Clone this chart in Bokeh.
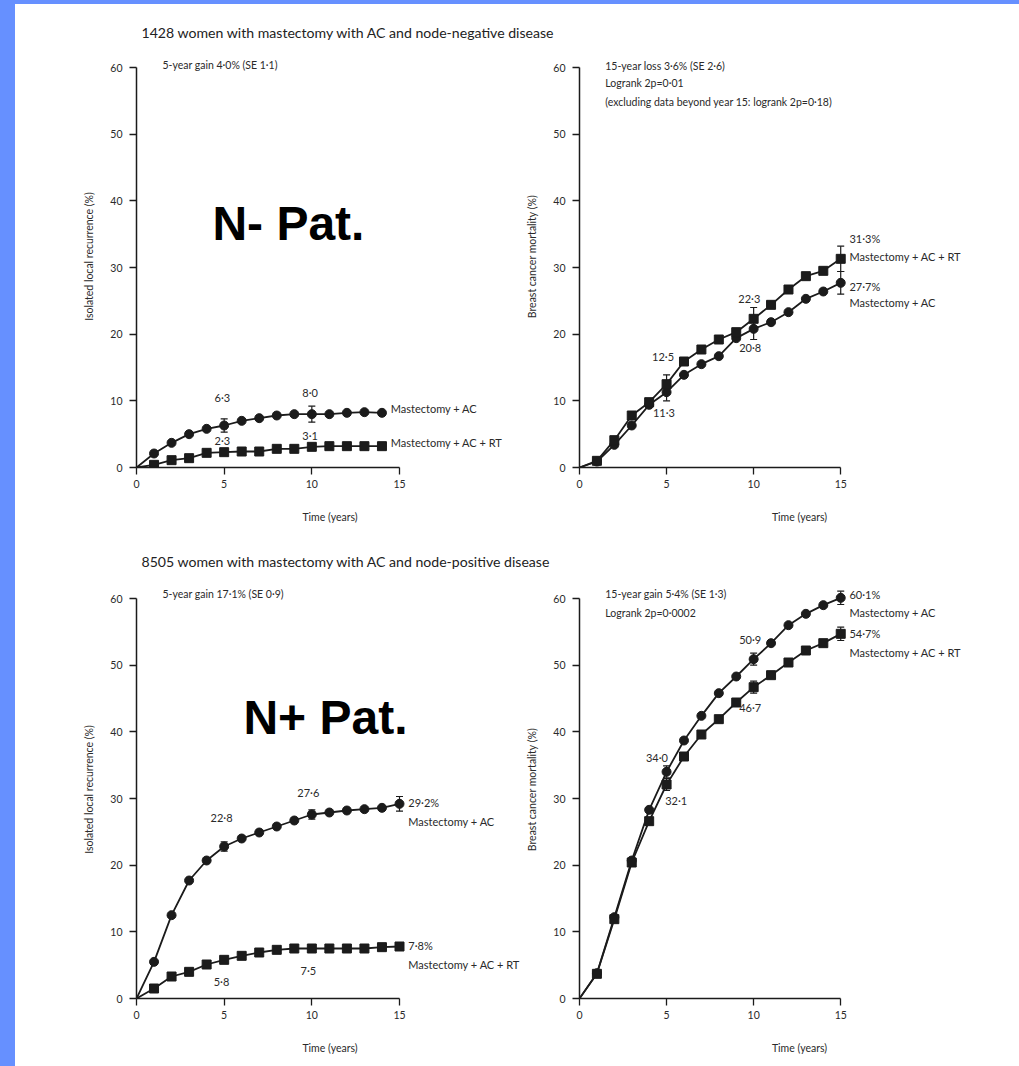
from bokeh.plotting import figure
from bokeh.layouts import column, row
from bokeh.models import Range1d, FixedTicker, Whisker, ColumnDataSource, TeeHead, Div
from bokeh.core.properties import value
from bokeh.embed import file_html
from bokeh.resources import INLINE

# ---------------- data ----------------
years = list(range(0, 16))
years14 = list(range(0, 15))

neg_rec_ac = [0, 2.1, 3.7, 5.0, 5.8, 6.3, 7.0, 7.4, 7.8, 8.0, 8.0, 8.0, 8.2, 8.3, 8.2]
neg_rec_rt = [0, 0.4, 1.1, 1.4, 2.2, 2.3, 2.4, 2.4, 2.8, 2.8, 3.1, 3.2, 3.2, 3.2, 3.2]
neg_mort_ac = [0, 0.9, 3.4, 6.3, 9.4, 11.3, 13.9, 15.5, 16.7, 19.4, 20.8, 21.8, 23.3, 25.3, 26.4, 27.7]
neg_mort_rt = [0, 1.0, 4.1, 7.8, 9.8, 12.5, 15.9, 17.7, 19.2, 20.3, 22.3, 24.4, 26.7, 28.7, 29.5, 31.3]
pos_rec_ac = [0, 5.5, 12.5, 17.7, 20.7, 22.8, 24.0, 24.9, 25.8, 26.7, 27.6, 27.9, 28.2, 28.4, 28.6, 29.2]
pos_rec_rt = [0, 1.5, 3.3, 4.0, 5.1, 5.8, 6.4, 6.9, 7.3, 7.5, 7.5, 7.5, 7.5, 7.5, 7.7, 7.8]
pos_mort_ac = [0, 3.8, 12.2, 20.7, 28.3, 34.0, 38.7, 42.4, 45.8, 48.3, 50.9, 53.3, 56.0, 57.7, 59.0, 60.1]
pos_mort_rt = [0, 3.7, 11.9, 20.4, 26.6, 32.1, 36.3, 39.6, 41.9, 44.4, 46.7, 48.5, 50.4, 52.2, 53.3, 54.7]

# error-bar half widths (SE) at selected years
neg_rec_ac_se = {5: 1.0, 10: 1.2}
neg_rec_rt_se = {5: 0.4, 10: 0.5}
neg_mort_ac_se = {5: 1.3, 10: 1.6, 15: 1.7}
neg_mort_rt_se = {5: 1.4, 10: 1.7, 15: 1.9}
pos_rec_ac_se = {5: 0.7, 10: 0.7, 15: 1.1}
pos_rec_rt_se = {5: 0.4, 10: 0.4, 15: 0.4}
pos_mort_ac_se = {5: 0.9, 10: 0.9, 15: 1.0}
pos_mort_rt_se = {5: 0.9, 10: 0.9, 15: 1.0}

y_ticks = [0, 10, 20, 30, 40, 50, 60]
x_ticks = [0, 5, 10, 15]

title_neg = "1428 women with mastectomy with AC and node-negative disease"
title_pos = "8505 women with mastectomy with AC and node-positive disease"
ylab_rec = "Isolated local recurrence (%)"
ylab_mort = "Breast cancer mortality (%)"
xlab = "Time (years)"
lab_ac = "Mastectomy + AC"
lab_rt = "Mastectomy + AC + RT"

# ---------------- style ----------------
FONT = "Lato"
INK = "#1b1b1b"
TXT = "#2a2a2a"
BLUE = "#6690ff"
XSCALE = 263.0 / 15.0   # px per year
YSCALE = 400.0 / 60.0   # px per percent


def fmt(v, pct=False):
    s = ("%.1f" % v).replace(".", "\u00b7")
    return s + ("%" if pct else "")


def panel(width, height, left, bottom, ylabel):
    frame_w = width - left
    frame_h = height - bottom
    p = figure(width=width, height=height, output_backend="svg", toolbar_location=None,
               x_range=Range1d(0, frame_w / XSCALE), y_range=Range1d(0, frame_h / YSCALE),
               min_border_left=left, min_border_bottom=bottom, min_border_top=0, min_border_right=0)
    p.outline_line_color = None
    p.grid.visible = False
    p.background_fill_color = "white"
    p.border_fill_color = "white"
    for ax in (p.xaxis[0], p.yaxis[0]):
        ax.axis_line_color = INK
        ax.axis_line_width = 1.5
        ax.major_tick_line_color = INK
        ax.major_tick_line_width = 1.3
        ax.major_tick_in = 0
        ax.major_tick_out = 7
        ax.minor_tick_line_color = None
        ax.major_label_text_font = FONT
        ax.major_label_text_font_size = "10.5px"
        ax.major_label_text_color = TXT
        ax.axis_label_text_font = FONT
        ax.axis_label_text_font_size = "10.5px"
        ax.axis_label_text_font_style = "normal"
        ax.axis_label_text_color = TXT
    p.xaxis.bounds = (0, 15)
    p.yaxis.bounds = (0, 60)
    p.xaxis.ticker = FixedTicker(ticks=x_ticks)
    p.yaxis.ticker = FixedTicker(ticks=y_ticks)
    p.xaxis.major_label_standoff = 5
    p.yaxis.major_label_standoff = 7
    p.xaxis.axis_label = xlab
    p.yaxis.axis_label = ylabel
    p.xaxis.axis_label_standoff = 20
    p.yaxis.axis_label_standoff = 12
    return p


def series(p, xs, ys, marker, se):
    p.line(xs, ys, line_color=INK, line_width=1.8)
    size = 9 if marker == "circle" else 9
    p.scatter(xs[1:], ys[1:], marker=marker, size=size, fill_color=INK, line_color=INK)
    ex = list(se.keys())
    src = ColumnDataSource(dict(x=ex, lo=[ys[e] - se[e] for e in ex], hi=[ys[e] + se[e] for e in ex]))
    w = Whisker(source=src, base="x", lower="lo", upper="hi", line_color=INK, line_width=1.2,
                upper_head=TeeHead(size=7, line_color=INK, line_width=1.2),
                lower_head=TeeHead(size=7, line_color=INK, line_width=1.2))
    p.add_layout(w)


def texts(p, xs, ys, txt, size="11px", align="center", color=TXT, style="normal", font=FONT,
          baseline="middle"):
    p.text(xs, ys, text=txt, text_font=value(font), text_font_size=size, text_align=align,
           text_baseline=baseline, text_color=color, text_font_style=style)


# ---------------- panels ----------------
LW, RW = 508, 496
TH, BH = 495, 486

# top-left: node-negative local recurrence
p1 = panel(LW, TH, 121, 73, ylab_rec)
series(p1, years14, neg_rec_ac, "circle", neg_rec_ac_se)
series(p1, years14, neg_rec_rt, "square", neg_rec_rt_se)
texts(p1, [5 - 0.1, 10 - 0.1], [neg_rec_ac[5] + 4.2, neg_rec_ac[10] + 3.2],
      [fmt(neg_rec_ac[5]), fmt(neg_rec_ac[10])])
texts(p1, [5 - 0.1, 10 - 0.1], [neg_rec_rt[5] + 1.8, neg_rec_rt[10] + 1.7],
      [fmt(neg_rec_rt[5]), fmt(neg_rec_rt[10])])
texts(p1, [14.5, 14.5], [neg_rec_ac[14] + 0.6, neg_rec_rt[14] + 0.5], [lab_ac, lab_rt], align="left")
texts(p1, [1.48], [60.45], ["5-year gain 4\u00b70% (SE 1\u00b71)"], align="left", size="10.5px")
texts(p1, [4.33], [36.6], ["N- Pat."], size="48px", align="left", color="black", style="bold",
      font="Liberation Sans", baseline="alphabetic")

# top-right: node-negative breast cancer mortality
p2 = panel(RW, TH, 53, 73, ylab_mort)
series(p2, years, neg_mort_ac, "circle", neg_mort_ac_se)
series(p2, years, neg_mort_rt, "square", neg_mort_rt_se)
texts(p2, [4.8, 9.75], [neg_mort_rt[5] + 4.1, neg_mort_rt[10] + 3.1],
      [fmt(neg_mort_rt[5]), fmt(neg_mort_rt[10])])
texts(p2, [4.85, 9.8], [neg_mort_ac[5] - 3.1, neg_mort_ac[10] - 2.85],
      [fmt(neg_mort_ac[5]), fmt(neg_mort_ac[10])])
texts(p2, [15.5, 15.5, 15.5, 15.5],
      [neg_mort_rt[15] + 3.0, neg_mort_rt[15] + 0.4, neg_mort_ac[15] - 0.5, neg_mort_ac[15] - 3.0],
      [fmt(neg_mort_rt[15], True), lab_rt, fmt(neg_mort_ac[15], True), lab_ac], align="left")
texts(p2, [1.48, 1.48, 1.48], [60.3, 57.75, 54.8],
      ["15-year loss 3\u00b76% (SE 2\u00b76)", "Logrank 2p=0\u00b701",
       "(excluding data beyond year 15: logrank 2p=0\u00b718)"], align="left", size="10.5px")

# bottom-left: node-positive local recurrence
p3 = panel(LW, BH, 121, 68, ylab_rec)
series(p3, years, pos_rec_ac, "circle", pos_rec_ac_se)
series(p3, years, pos_rec_rt, "square", pos_rec_rt_se)
texts(p3, [4.85, 9.8], [pos_rec_ac[5] + 4.35, pos_rec_ac[10] + 3.3],
      [fmt(pos_rec_ac[5]), fmt(pos_rec_ac[10])])
texts(p3, [4.85, 9.8], [pos_rec_rt[5] - 3.25, pos_rec_rt[10] - 3.3],
      [fmt(pos_rec_rt[5]), fmt(pos_rec_rt[10])])
texts(p3, [15.5, 15.5, 15.5, 15.5],
      [pos_rec_ac[15] + 0.2, pos_rec_ac[15] - 2.65, pos_rec_rt[15] + 0.15, pos_rec_rt[15] - 2.7],
      [fmt(pos_rec_ac[15], True), lab_ac, fmt(pos_rec_rt[15], True), lab_rt], align="left")
texts(p3, [1.48], [60.75], ["5-year gain 17\u00b71% (SE 0\u00b79)"], align="left", size="10.5px")
texts(p3, [6.1], [42.15], ["N+ Pat."], size="48px", align="left", color="black", style="bold",
      font="Liberation Sans", baseline="alphabetic")

# bottom-right: node-positive breast cancer mortality
p4 = panel(RW, BH, 53, 68, ylab_mort)
series(p4, years, pos_mort_ac, "circle", pos_mort_ac_se)
series(p4, years, pos_mort_rt, "square", pos_mort_rt_se)
texts(p4, [4.45, 9.8], [pos_mort_ac[5] + 2.15, pos_mort_ac[10] + 2.95],
      [fmt(pos_mort_ac[5]), fmt(pos_mort_ac[10])])
texts(p4, [5.55, 9.8], [pos_mort_rt[5] - 2.4, pos_mort_rt[10] - 3.05],
      [fmt(pos_mort_rt[5]), fmt(pos_mort_rt[10])])
texts(p4, [15.5, 15.5, 15.5, 15.5],
      [pos_mort_ac[15] + 0.5, pos_mort_ac[15] - 2.2, pos_mort_rt[15] + 0.05, pos_mort_rt[15] - 2.8],
      [fmt(pos_mort_ac[15], True), lab_ac, fmt(pos_mort_rt[15], True), lab_rt], align="left")
texts(p4, [1.48, 1.48], [60.75, 57.9],
      ["15-year gain 5\u00b74% (SE 1\u00b73)", "Logrank 2p=0\u00b70002"], align="left", size="10.5px")


# ---------------- title strips ----------------
def strip(h, text, y_from_top):
    s = figure(width=1004, height=h, output_backend="svg", toolbar_location=None,
               x_range=Range1d(0, 1004), y_range=Range1d(0, h), min_border=0)
    s.axis.visible = False
    s.grid.visible = False
    s.outline_line_color = None
    s.text([141 - 15], [h - y_from_top], text=[text], text_font=value(FONT), text_font_size="14.1px",
           text_baseline="middle", text_align="left", text_color="#222222")
    return s


t1 = strip(41, title_neg, 28)
t2 = strip(40, title_pos, 21)

top_bar = Div(width=1019, height=4, styles={"background-color": BLUE}, margin=0)
left_bar = Div(width=15, height=1062, styles={"background-color": BLUE}, margin=0)

content = column(t1, row(p1, p2), t2, row(p3, p4))
layout = column(top_bar, row(left_bar, content))

open("out.html", "w").write(file_html(layout, INLINE))
